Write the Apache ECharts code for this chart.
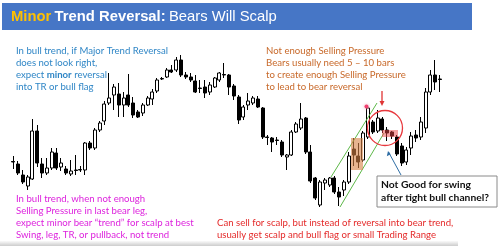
<!DOCTYPE html>
<html><head><meta charset="utf-8">
<script src="https://cdn.jsdelivr.net/npm/echarts@6/dist/echarts.min.js"></script>
<style>html,body{margin:0;padding:0;background:#fff;}#c{width:499px;height:246px;}</style>
</head><body><div id="c"></div>
<script>
// Bar-by-bar prices (arbitrary price units)
const opens  = [88.5,86,75,64,71,119,86,77,82,97,83,81,76,80,80,80,107,102,120,129,147,155,156,145,155,147,138,137,145,151,159,171,173,180,180,190,175,173,169,162,163,158,163,170,175.5,175,164,153,133,145,147,151,142,113,112,110,108,93,95,118,122,132,98,72,45,67,65,72,58,60,68,101,94,90,113,128,119,131,120,118,113,104,88,102,115,113,122,158,175,171];
const closes = [88,77,68,73,119,87,77,82,98,82,87,77,79,79.5,80.5,107,102,120,127,146,152,163,145,152,145,135,133,145,152,158,170,171.5,180,178,190,175,173,170,158,161.5,157,165,172,177,175,163,154,130,143,149,152,143,113,112.5,108,109.5,95,95,118,126,131,98,69,52,68,70,72,58,53,68,94,95,88,117,142,118,132,120,117,114,96,87,100,114,112,128,158,175,168,170.5];
const lows   = [81,75,66,60,70,83,72,75,80,80,79,75,74,75,78,75,100,100,118,125,145,140,133,133,143,132,132,134,144,145,157,170,172,177,178,173,171,168,157,157,152,155,162,168,172,155,150,126,130,140,145,142,111,105,98,105,93,80,94,117,120,96,67,50,43,60,63,56,44,54,66,84,82,88,111,116,117,117,109,111,94,84,85,95,108,110,117,155,160,158];
const highs  = [94,89,80,75,131,125,92,92,102,102,92,84,90,95,84,108,109,122,129,149,177,166,167,158,176,153,140,147,154,161,172,173,182,185,193,195,178,177,175,170,170,168,173,178,187,176,166,155,145,157,154,154,143,115,113,113,110,96,120,128,147,133,105,73,70,72,73,74,63,70,98,112,107,119,145,130,140,133,123,119,115,107,103,118,120,133,162,180,190,175];
const categories = opens.map((_, i) => 'Bar ' + (i + 1));

const titleParts = ['Minor', 'Trend Reversal:', 'Bears Will Scalp'];
const blueNote = ['In bull trend, if Major Trend Reversal', 'does not look right,', 'expect {b|minor} reversal', 'into TR or bull flag'];
const orangeNote = ['Not enough Selling Pressure', 'Bears usually need 5 \u2013 10 bars', 'to create enough Selling Pressure', 'to lead to bear reversal'];
const magentaNote = ['In bull trend, when not enough', 'Selling Pressure in last bear leg,', 'expect minor bear \u201ctrend\u201d for scalp at best', 'Swing, leg, TR, or pullback, not trend'];
const redNote = ['Can sell for scalp, but instead of reversal into bear trend,', 'usually get scalp and bull flag or small Trading Range'];
const boxNote = ['Not Good for swing', 'after tight bull channel?'];

const chart = echarts.init(document.getElementById('c'), null, {renderer: 'canvas'});
const data = opens.map((o, i) => [o, closes[i], lows[i], highs[i]]);
const F = 'Lato, "Open Sans", sans-serif';
const FS = 9.6;

function textEl(x, y, text, color, size, weight, rich) {
  return {type: 'text', x: x, y: y, z: 20, style: {text: text, fill: color, font: (weight||'normal') + ' ' + size + 'px ' + F, textVerticalAlign: 'middle', rich: rich}};
}
const graphics = [];
// title bar
graphics.push({type: 'rect', shape: {x: 2, y: 3, width: 470, height: 27}, style: {fill: '#4676C6'}, z: 10});
graphics.push({type: 'text', x: 11, y: 16.5, z: 11, style: {
  text: '{a|' + titleParts[0] + '} {b|' + titleParts[1] + '} {c|' + titleParts[2] + '}',
  textVerticalAlign: 'middle',
  rich: {
    a: {fill: '#FFC000', font: 'bold 14.8px "Liberation Sans", Arial, sans-serif'},
    b: {fill: '#ffffff', font: 'bold 14.8px "Liberation Sans", Arial, sans-serif'},
    c: {fill: '#ffffff', font: 'normal 14.8px "Liberation Sans", Arial, sans-serif'}
  }
}});
// bottom shadow
graphics.push({type: 'rect', shape: {x: 0, y: 241, width: 458, height: 5}, z: 1,
  style: {fill: new echarts.graphic.LinearGradient(0, 0, 0, 1, [{offset: 0, color: 'rgba(0,0,0,0.02)'}, {offset: 1, color: 'rgba(0,0,0,0.2)'}])}});
const LH = 12.3;
blueNote.forEach((t, i) => graphics.push({type: 'text', x: 16, y: 50.5 + i * LH, z: 20, style: {text: t, fill: '#2F86C6', font: 'normal ' + FS + 'px ' + F, textVerticalAlign: 'middle', rich: {b: {fill: '#2F86C6', font: 'bold ' + FS + 'px ' + F}}}}));
orangeNote.forEach((t, i) => graphics.push(textEl(266, 50.5 + i * LH, t, '#C8692A', FS)));
magentaNote.forEach((t, i) => graphics.push(textEl(16, 199 + i * 12.1, t, '#DD22DD', FS)));
redNote.forEach((t, i) => graphics.push(textEl(217, 223.3 + i * 12.1, t, '#E42A2A', FS)));
// callout box
graphics.push({type: 'rect', shape: {x: 377, y: 176, width: 120, height: 31}, style: {fill: '#fff', stroke: '#8a8a8a', lineWidth: 1}, z: 15});
boxNote.forEach((t, i) => graphics.push(textEl(381, 185 + i * 12.5, t, '#111', 10.3, 'bold')));
// blue arrow from box to pink area
graphics.push({type: 'line', shape: {x1: 401, y1: 175, x2: 388.5, y2: 152}, style: {stroke: '#2E6DA4', lineWidth: 1}, z: 16});
graphics.push({type: 'polygon', shape: {points: [[388, 151], [386.8, 156.2], [390.6, 154.2]]}, style: {fill: '#2E6DA4'}, z: 16});
// red down arrow
graphics.push({type: 'line', shape: {x1: 382, y1: 91, x2: 382, y2: 103}, style: {stroke: '#E03434', lineWidth: 1.3}, z: 16});
graphics.push({type: 'polygon', shape: {points: [[382, 106], [379.5, 101], [384.5, 101]]}, style: {fill: '#E03434'}, z: 16});
// red circle
graphics.push({type: 'circle', shape: {cx: 385, cy: 128, r: 17.5}, style: {fill: 'none', stroke: '#E8383D', lineWidth: 1.3}, z: 16});
// red dot
graphics.push({type: 'circle', shape: {cx: 366.5, cy: 106.5, r: 2}, style: {fill: '#F04070', shadowBlur: 3, shadowColor: '#F590A8'}, z: 16});
// green channel lines
graphics.push({type: 'line', shape: {x1: 331, y1: 177, x2: 377, y2: 103}, style: {stroke: '#5DB848', lineWidth: 1}, z: 14});
graphics.push({type: 'line', shape: {x1: 340, y1: 207, x2: 384, y2: 133}, style: {stroke: '#5DB848', lineWidth: 1}, z: 14});
// orange shaded box
graphics.push({type: 'rect', shape: {x: 351, y: 138, width: 12, height: 32}, style: {fill: 'rgba(215,130,70,0.6)'}, z: 14});
// pink shaded box
graphics.push({type: 'rect', shape: {x: 382, y: 130, width: 16, height: 7}, style: {fill: 'rgba(235,70,70,0.5)'}, z: 14});

chart.setOption({
  animation: false,
  backgroundColor: '#ffffff',
  grid: {left: 10.9, width: 431.4, top: 0, height: 246},
  xAxis: {type: 'category', data: categories, show: false, boundaryGap: true},
  yAxis: {type: 'value', min: 4, max: 250, show: false, splitLine: {show: false}},
  series: [{
    type: 'candlestick', data: data, barWidth: 3.5,
    itemStyle: {color: '#ffffff', color0: '#000000', borderColor: '#000000', borderColor0: '#000000', borderWidth: 1}
  }],
  graphic: graphics
});
</script></body></html>
